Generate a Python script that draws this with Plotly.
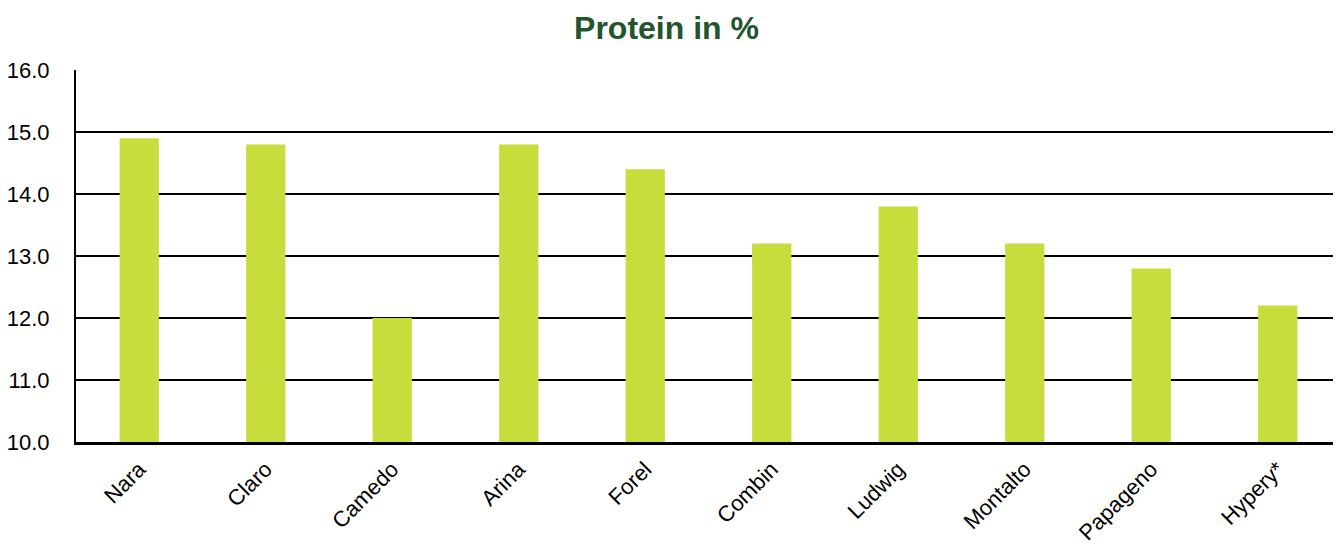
import plotly.graph_objects as go

varieties = ["Nara", "Claro", "Camedo", "Arina", "Forel", "Combin", "Ludwig", "Montalto", "Papageno", "Hypery*"]
protein = [14.9, 14.8, 12.0, 14.8, 14.4, 13.2, 13.8, 13.2, 12.8, 12.2]
y_ticks = [10, 11, 12, 13, 14, 15, 16]
y_tick_labels = ["10.0", "11.0", "12.0", "13.0", "14.0", "15.0", "16.0"]

fig = go.Figure(go.Bar(
    x=varieties, y=protein,
    marker=dict(color="#c8dc3c", line=dict(width=0)),
    width=0.31,
))

fig.update_layout(
    width=1333, height=538,
    margin=dict(l=68, r=0, t=62, b=104, autoexpand=False),
    paper_bgcolor="white", plot_bgcolor="white",
    font=dict(family="Liberation Sans, Arial, sans-serif", color="black"),
    title=dict(text="<b>Protein in %</b>", x=0.494, xanchor="center", y=0.984, yanchor="top",
               font=dict(size=32, color="#22552e", family="Liberation Sans, Arial, sans-serif")),
    showlegend=False,
)
fig.update_yaxes(
    range=[10, 16], tickvals=y_ticks, ticktext=y_tick_labels,
    showgrid=True, gridcolor="black", gridwidth=1.5,
    showline=True, linecolor="black", linewidth=2,
    ticks="", tickfont=dict(size=22), zeroline=False,
    ticklabelstandoff=20, automargin=False,
)
fig.update_xaxes(
    showline=True, linecolor="black", linewidth=2.5,
    tickangle=-45, ticks="", tickfont=dict(size=22),
    ticklabelstandoff=3, automargin=False,
)
fig.write_html("out.html")
